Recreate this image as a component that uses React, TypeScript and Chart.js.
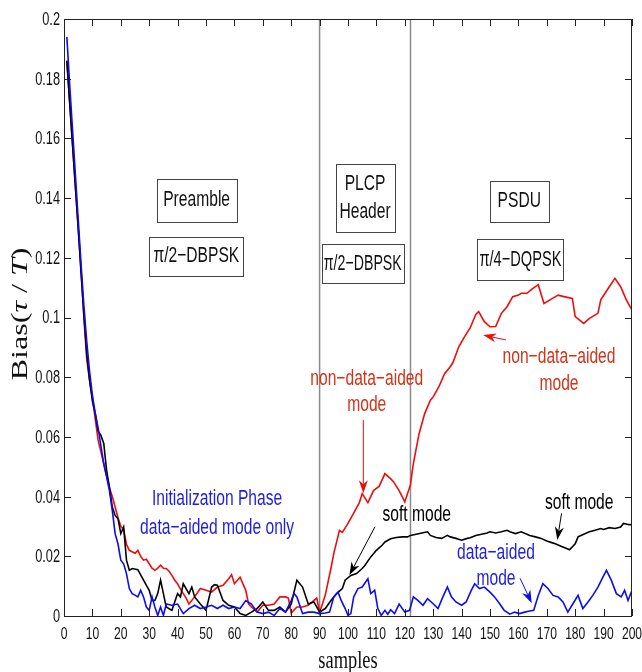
import React, { useEffect, useRef } from 'react';
import { Chart, registerables } from 'chart.js';

Chart.register(...registerables);

// ---------- data ----------
const xTickValues = [0, 10, 20, 30, 40, 50, 60, 70, 80, 90, 100, 110, 120, 130, 140, 150, 160, 170, 180, 190, 200];
const yTickValues = [0, 0.02, 0.04, 0.06, 0.08, 0.1, 0.12, 0.14, 0.16, 0.18, 0.2];
const phaseBounds = [90, 122];

const redSamples = [1, 2, 3, 4, 5, 6, 7, 8, 9, 10, 11, 12, 13, 14, 15, 16, 17, 18, 19, 20, 21, 22, 23, 24, 25, 26, 27, 28, 29, 30, 31, 32, 33, 34, 35, 36, 37, 38, 39, 40, 41, 42, 43, 44, 46, 48, 50, 52, 54, 56, 58, 59, 60, 62, 64, 65, 66, 68, 70, 72, 74, 76, 78, 79, 80, 82, 84, 86, 88, 89, 90, 91, 92, 94, 95, 97, 98, 100, 102, 104, 105, 107, 109, 111, 113, 115, 116, 118, 120, 122, 123, 125, 127, 129, 130, 132, 134, 136, 137, 139, 141, 143, 145, 146, 148, 150, 152, 154, 156, 158, 160, 161, 163, 165, 167, 169, 172, 174, 176, 179, 180, 183, 185, 188, 189, 192, 194, 196, 198, 200];
const redBias = [0.186, 0.172, 0.158, 0.144, 0.13, 0.116, 0.1, 0.086, 0.079, 0.073, 0.066, 0.059, 0.055, 0.051, 0.047, 0.043, 0.04, 0.0365, 0.033, 0.03, 0.029, 0.024, 0.022, 0.0215, 0.021, 0.022, 0.02, 0.0187, 0.019, 0.0175, 0.016, 0.0153, 0.016, 0.017, 0.016, 0.0159, 0.015, 0.0136, 0.012, 0.0108, 0.009, 0.0075, 0.006, 0.004, 0.0064, 0.0092, 0.0086, 0.008, 0.0097, 0.0103, 0.0125, 0.0138, 0.0108, 0.013, 0.0086, 0.004, 0.003, 0.0013, 0.0036, 0.0036, 0.004, 0.0064, 0.0064, 0.006, 0.001, 0.003, 0.003, 0.0036, 0.0052, 0.006, 0.0013, 0.004, 0.007, 0.016, 0.021, 0.0287, 0.028, 0.031, 0.0345, 0.038, 0.041, 0.038, 0.042, 0.0435, 0.0477, 0.046, 0.045, 0.042, 0.0382, 0.044, 0.051, 0.061, 0.0678, 0.0723, 0.0734, 0.0768, 0.0812, 0.0835, 0.085, 0.0902, 0.0935, 0.0965, 0.101, 0.102, 0.0986, 0.0969, 0.097, 0.1014, 0.1036, 0.107, 0.1075, 0.1081, 0.1081, 0.1097, 0.111, 0.1047, 0.1064, 0.1075, 0.107, 0.1064, 0.1003, 0.098, 0.0997, 0.1014, 0.1059, 0.1103, 0.1131, 0.1103, 0.1059, 0.1025];

const blackSamples = [1, 2, 3, 4, 5, 6, 7, 8, 9, 10, 11, 12, 13, 14, 15, 16, 17, 18, 19, 20, 21, 22, 23, 24, 26, 28, 30, 31, 32, 33, 34, 35, 36, 38, 40, 41, 42, 44, 45, 46, 48, 50, 52, 53, 54, 56, 58, 60, 62, 64, 66, 68, 70, 72, 74, 76, 78, 80, 82, 84, 86, 88, 90, 92, 94, 96, 98, 99, 101, 103, 105, 106, 108, 110, 112, 113, 115, 117, 119, 121, 122, 124, 126, 128, 129, 131, 133, 135, 136, 138, 140, 142, 143, 145, 147, 149, 150, 152, 154, 156, 157, 159, 161, 163, 164, 166, 168, 170, 172, 173, 175, 177, 178, 180, 181, 183, 185, 187, 189, 190, 192, 194, 196, 197, 199, 200];
const blackBias = [0.186, 0.172, 0.158, 0.144, 0.13, 0.115, 0.101, 0.088, 0.079, 0.072, 0.0678, 0.062, 0.0605, 0.0578, 0.0488, 0.0432, 0.0365, 0.0337, 0.0326, 0.0276, 0.0298, 0.0187, 0.0153, 0.0159, 0.0155, 0.012, 0.0086, 0.0052, 0.0052, 0.0075, 0.012, 0.0075, 0.003, 0.0019, 0.0075, 0.0064, 0.0108, 0.0075, 0.0097, 0.0064, 0.004, 0.0019, 0.0097, 0.0105, 0.0103, 0.0052, 0.0036, 0.003, 0.0008, 0.0002, 0.0013, 0.0025, 0.0047, 0.0019, 0.0019, 0.003, 0.0013, 0.004, 0.012, 0.0097, 0.004, 0.0047, 0.0013, 0.0025, 0.0052, 0.0075, 0.0092, 0.012, 0.0136, 0.0142, 0.0159, 0.017, 0.0198, 0.022, 0.0237, 0.0248, 0.0259, 0.0263, 0.0265, 0.0265, 0.027, 0.0274, 0.0278, 0.0282, 0.027, 0.0263, 0.026, 0.027, 0.0265, 0.026, 0.0254, 0.026, 0.0262, 0.027, 0.0274, 0.0278, 0.0282, 0.0278, 0.0282, 0.0287, 0.0282, 0.0276, 0.0282, 0.0274, 0.027, 0.0265, 0.026, 0.0251, 0.0245, 0.0242, 0.0234, 0.0226, 0.0222, 0.0242, 0.0265, 0.0274, 0.0282, 0.0287, 0.0293, 0.029, 0.0296, 0.0293, 0.0298, 0.031, 0.0306, 0.0306];

const blueSamples = [1, 2, 3, 4, 5, 6, 7, 8, 9, 10, 11, 12, 13, 14, 15, 16, 17, 18, 19, 20, 21, 22, 23, 24, 25, 26, 27, 28, 29, 30, 31, 32, 33, 34, 35, 36, 38, 40, 42, 44, 46, 48, 50, 52, 54, 56, 58, 60, 62, 64, 66, 68, 70, 72, 74, 76, 78, 80, 81, 82, 84, 86, 88, 90, 92, 93.5, 95, 96.5, 97.6, 99, 100, 101, 102, 103.5, 105, 107, 108, 109.4, 110.5, 111.7, 113, 114, 115, 116.4, 118, 120, 121.7, 123, 124.6, 126.4, 128, 130, 131.7, 133.4, 135, 136.4, 138, 140, 141.6, 143.4, 144.6, 146.3, 148, 150, 151.6, 153.4, 155, 157, 158.7, 160.4, 162.2, 164, 165.4, 167, 168.6, 170.4, 172.2, 174, 175.7, 177.4, 179.2, 181, 182.7, 184.5, 186.2, 188, 189.8, 191, 192.7, 194.5, 196.2, 197.4, 198.6, 200];
const blueBias = [0.194, 0.178, 0.163, 0.148, 0.133, 0.118, 0.104, 0.092, 0.082, 0.074, 0.068, 0.063, 0.057, 0.051, 0.0466, 0.042, 0.0354, 0.0276, 0.0242, 0.0187, 0.0175, 0.0142, 0.0092, 0.0075, 0.007, 0.0064, 0.0086, 0.0064, 0.003, 0.0019, 0.0064, 0.003, 0.0002, 0.003, 0.0002, 0.004, 0.0036, 0.004, 0.0008, 0.0025, 0.0036, 0.0025, 0.003, 0.0036, 0.0025, 0.0036, 0.0025, 0.003, 0.0025, 0.0052, 0.004, 0.0013, 0.0008, 0.0013, 0.0002, 0.0025, 0.0013, 0.0052, 0.0075, 0.0064, 0.0008, 0.0013, 0.0013, 0.0008, 0.001, 0.0013, 0.0064, 0.008, 0.0052, 0.0025, 0.0002, 0.0008, 0.0064, 0.0092, 0.0097, 0.0125, 0.0075, 0.0086, 0.0025, 0.0002, 0.0019, 0.0006, 0.0021, 0.0008, 0.004, 0.0013, 0.0019, 0.0064, 0.0052, 0.0036, 0.0058, 0.0041, 0.0025, 0.0064, 0.0097, 0.0064, 0.0047, 0.0036, 0.0047, 0.0086, 0.0108, 0.0092, 0.0097, 0.008, 0.0064, 0.0041, 0.0019, 0.0006, 0.0013, 0.0008, 0.0013, 0.0017, 0.0019, 0.0069, 0.0108, 0.0092, 0.0069, 0.0064, 0.0047, 0.0013, 0.0041, 0.0069, 0.0025, 0.0047, 0.0069, 0.0097, 0.0131, 0.0153, 0.012, 0.0075, 0.0064, 0.0086, 0.0052, 0.0086];

// ---------- styles ----------
const RED = '#ee0c0c';
const BLUE = '#0c0cee';
const BLACK = '#000000';
const RED_TEXT = '#d4331a';
const BLUE_TEXT = '#1f1fe0';
const SX = 0.71;
const SANS = '"Liberation Sans", Arial, sans-serif';
const SERIF = '"Liberation Serif", "DejaVu Serif", serif';

const boxes = [
  { lines: ['Preamble'], x: 46.7, y: 0.1393, w: 80, h: 43 },
  { lines: ['π/2−DBPSK'], x: 46.6, y: 0.1205, w: 94, h: 39 },
  { lines: ['PLCP', 'Header'], x: 106, y: 0.14, w: 59, h: 68 },
  { lines: ['π/2−DBPSK'], x: 105.2, y: 0.118, w: 82, h: 39 },
  { lines: ['PSDU'], x: 160.3, y: 0.1389, w: 59, h: 41 },
  { lines: ['π/4−DQPSK'], x: 160.7, y: 0.1194, w: 86, h: 41 },
];

const notes = [
  { lines: ['Initialization Phase', 'data−aided mode only'], x: 53.9, y: 0.0343, gap: 29, color: BLUE_TEXT },
  { lines: ['non−data−aided', 'mode'], x: 106.6, y: 0.075, gap: 26, color: RED_TEXT },
  { lines: ['soft mode'], x: 124.2, y: 0.0338, gap: 26, color: BLACK },
  { lines: ['non−data−aided', 'mode'], x: 174.3, y: 0.0824, gap: 27, color: RED_TEXT },
  { lines: ['soft mode'], x: 181.4, y: 0.0378, gap: 26, color: BLACK },
  { lines: ['data−aided', 'mode'], x: 152.1, y: 0.0168, gap: 26, color: BLUE_TEXT },
];

const arrows = [
  { x1: 105.4, y1: 0.0657, x2: 105.4, y2: 0.0411, color: RED },
  { x1: 109.5, y1: 0.0299, x2: 100.5, y2: 0.0137, color: BLACK },
  { x1: 155.6, y1: 0.0925, x2: 147.6, y2: 0.0941, color: RED },
  { x1: 175.2, y1: 0.0344, x2: 173.7, y2: 0.0255, color: BLACK },
  { x1: 160.6, y1: 0.0126, x2: 164.7, y2: 0.0043, color: BLUE },
];

function txt(ctx: any, s: string, x: number, y: number, size: number, color: string, align = 'center', baseline = 'middle', font = SANS, maxW?: number) {
  ctx.save();
  ctx.translate(x, y);
  ctx.scale(SX, 1);
  ctx.font = `${size}px ${font}`;
  ctx.fillStyle = color;
  ctx.textAlign = align;
  ctx.textBaseline = baseline;
  if (maxW) ctx.fillText(s, 0, 0, maxW / SX);
  else ctx.fillText(s, 0, 0);
  ctx.restore();
}

function drawArrow(ctx: any, x1: number, y1: number, x2: number, y2: number, color: string) {
  const ang = Math.atan2(y2 - y1, x2 - x1);
  const c = Math.cos(ang), s = Math.sin(ang);
  const L = 13, W = 4.5;
  ctx.save();
  ctx.strokeStyle = color;
  ctx.fillStyle = color;
  ctx.lineWidth = 1;
  ctx.beginPath();
  ctx.moveTo(x1, y1);
  ctx.lineTo(x2 - L * 0.7 * c, y2 - L * 0.7 * s);
  ctx.stroke();
  ctx.beginPath();
  ctx.moveTo(x2, y2);
  ctx.lineTo(x2 - L * c + W * s, y2 - L * s - W * c);
  ctx.lineTo(x2 - L * 0.7 * c, y2 - L * 0.7 * s);
  ctx.lineTo(x2 - L * c - W * s, y2 - L * s + W * c);
  ctx.closePath();
  ctx.fill();
  ctx.restore();
}

const overlay = {
  id: 'overlay',
  beforeDatasetsDraw(chart: any) {
    const { ctx, chartArea: a, scales } = chart;
    ctx.save();
    ctx.strokeStyle = '#8a8a8a';
    ctx.lineWidth = 1.5;
    for (const v of phaseBounds) {
      const px = scales.x.getPixelForValue(v);
      ctx.beginPath();
      ctx.moveTo(px, a.top);
      ctx.lineTo(px, a.bottom);
      ctx.stroke();
    }
    ctx.restore();
  },
  afterDatasetsDraw(chart: any) {
    const { ctx, chartArea: a, scales } = chart;
    const xs = scales.x, ys = scales.y;
    // frame
    ctx.save();
    ctx.strokeStyle = '#222';
    ctx.lineWidth = 1;
    ctx.strokeRect(Math.round(a.left) + 0.5, Math.round(a.top) + 0.5, Math.round(a.right - a.left) - 1, Math.round(a.bottom - a.top));
    // inward ticks
    const T = 7;
    ctx.beginPath();
    for (const t of xs.ticks) {
      const px = Math.round(xs.getPixelForValue(t.value)) + 0.5;
      ctx.moveTo(px, a.bottom); ctx.lineTo(px, a.bottom - T);
      ctx.moveTo(px, a.top); ctx.lineTo(px, a.top + T);
    }
    for (const t of ys.ticks) {
      const py = Math.round(ys.getPixelForValue(t.value)) + 0.5;
      ctx.moveTo(a.left, py); ctx.lineTo(a.left + T, py);
      ctx.moveTo(a.right, py); ctx.lineTo(a.right - T, py);
    }
    ctx.stroke();
    ctx.restore();
    // tick labels
    for (const t of xs.ticks) {
      txt(ctx, String(t.value), xs.getPixelForValue(t.value), a.bottom + 23, 17, '#111', 'center', 'alphabetic');
    }
    for (const t of ys.ticks) {
      txt(ctx, String(Number(t.value.toFixed(2))), a.left - 4, ys.getPixelForValue(t.value) + 1, 18, '#111', 'right', 'middle');
    }
    // boxes
    for (const b of boxes) {
      const cx = xs.getPixelForValue(b.x), cy = ys.getPixelForValue(b.y);
      ctx.save();
      ctx.fillStyle = '#fff';
      ctx.strokeStyle = '#444';
      ctx.lineWidth = 1;
      const l = Math.round(cx - b.w / 2) + 0.5, tp = Math.round(cy - b.h / 2) + 0.5;
      ctx.fillRect(l, tp, b.w, b.h);
      ctx.strokeRect(l, tp, b.w, b.h);
      ctx.restore();
      const n = b.lines.length;
      b.lines.forEach((s, i) => {
        txt(ctx, s, cx, cy + (i - (n - 1) / 2) * 28, 22, '#111', 'center', 'middle', SANS, b.w - 4);
      });
    }
    // notes
    for (const nt of notes) {
      const cx = xs.getPixelForValue(nt.x), cy = ys.getPixelForValue(nt.y);
      const n = nt.lines.length;
      nt.lines.forEach((s, i) => {
        txt(ctx, s, cx, cy + (i - (n - 1) / 2) * nt.gap, 22, nt.color);
      });
    }
    // arrows
    for (const ar of arrows) {
      drawArrow(ctx, xs.getPixelForValue(ar.x1), ys.getPixelForValue(ar.y1), xs.getPixelForValue(ar.x2), ys.getPixelForValue(ar.y2), ar.color);
    }
    // x title
    txt(ctx, 'samples', (a.left + a.right) / 2, 668, 26, '#111', 'center', 'alphabetic', SERIF);
    // y title (rotated, mixed italic)
    const segs: [string, boolean][] = [['Bias(', false], ['τ', true], [' / ', false], ['T', true], [')', false]];
    const size = 32;
    ctx.save();
    let total = 0;
    const widths: number[] = [];
    for (const [s, it] of segs) {
      ctx.font = `${it ? 'italic ' : ''}${size}px ${SERIF}`;
      const w = ctx.measureText(s).width;
      widths.push(w);
      total += w;
    }
    const targetLen = 133;
    ctx.translate(21, 314);
    ctx.rotate(-Math.PI / 2);
    ctx.scale(targetLen / total, SX);
    ctx.fillStyle = '#111';
    ctx.textBaseline = 'middle';
    ctx.textAlign = 'left';
    let xpos = -total / 2;
    segs.forEach(([s, it], i) => {
      ctx.font = `${it ? 'italic ' : ''}${size}px ${SERIF}`;
      ctx.fillText(s, xpos, 0);
      xpos += widths[i];
    });
    ctx.restore();
  },
};

function pts(xs: number[], ys: number[]) {
  return xs.map((x, i) => ({ x, y: ys[i] }));
}

export default function App() {
  const ref = useRef<HTMLCanvasElement | null>(null);
  useEffect(() => {
    if (!ref.current) return;
    const chart = new Chart(ref.current, {
      type: 'line',
      data: {
        datasets: [
          { label: 'data-aided', data: pts(blueSamples, blueBias), borderColor: BLUE, borderWidth: 1.6, pointRadius: 0, tension: 0, fill: false },
          { label: 'soft', data: pts(blackSamples, blackBias), borderColor: BLACK, borderWidth: 1.6, pointRadius: 0, tension: 0, fill: false },
          { label: 'non-data-aided', data: pts(redSamples, redBias), borderColor: RED, borderWidth: 1.6, pointRadius: 0, tension: 0, fill: false },
        ],
      },
      options: {
        responsive: false,
        animation: false,
        devicePixelRatio: 1,
        layout: { padding: { top: 19, right: 10, left: 0, bottom: 0 } },
        plugins: { legend: { display: false }, tooltip: { enabled: false } },
        scales: {
          x: {
            type: 'linear',
            min: 0,
            max: 200,
            grid: { display: false },
            border: { display: false },
            ticks: { display: false },
            afterBuildTicks: (s: any) => { s.ticks = xTickValues.map((v) => ({ value: v })); },
            afterFit: (s: any) => { s.height = 56; },
          },
          y: {
            type: 'linear',
            min: 0,
            max: 0.2,
            grid: { display: false },
            border: { display: false },
            ticks: { display: false },
            afterBuildTicks: (s: any) => { s.ticks = yTickValues.map((v) => ({ value: v })); },
            afterFit: (s: any) => { s.width = 64; },
          },
        },
      } as any,
      plugins: [overlay],
    });
    return () => chart.destroy();
  }, []);
  return (
    <div style={{ position: 'absolute', left: 0, top: 0, width: 642, height: 672, background: '#fff' }}>
      <canvas ref={ref} width={642} height={672} style={{ display: 'block' }} />
    </div>
  );
}
